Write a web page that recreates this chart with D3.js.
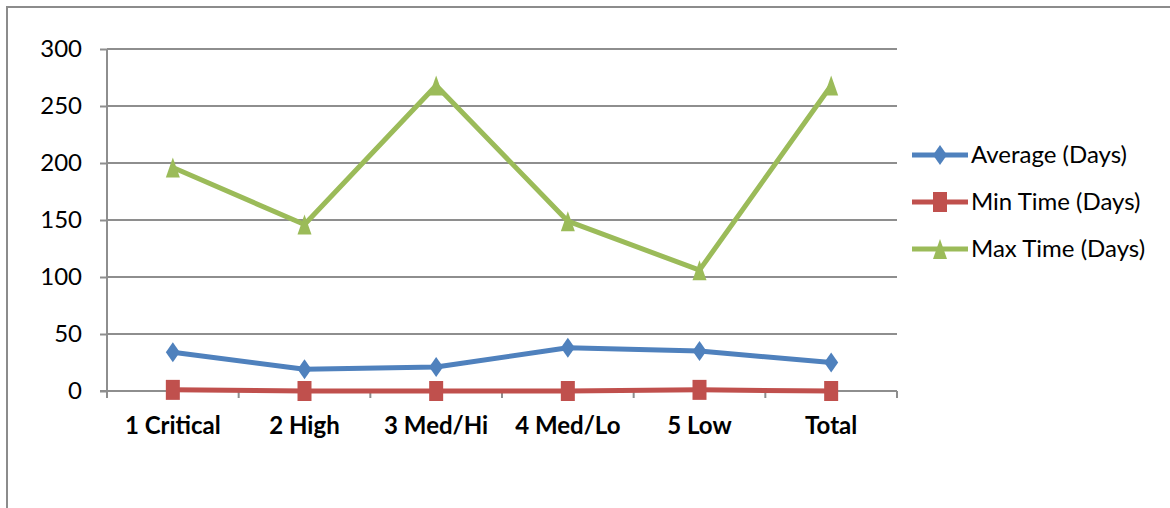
<!DOCTYPE html>
<html>
<head>
<meta charset="utf-8">
<script src="https://cdn.jsdelivr.net/npm/d3@7"></script>
<style>
  html, body { margin: 0; padding: 0; background: #fff; }
  svg { display: block; }
  text { font-family: "Lato", "Open Sans", sans-serif; fill: #000; }
</style>
</head>
<body>
<svg id="chart" width="1170" height="508"></svg>
<script>
// Resolution time per priority level
const categories = ["1 Critical", "2 High", "3 Med/Hi", "4 Med/Lo", "5 Low", "Total"];
const averageDays = [34, 19, 21, 38, 35, 25];
const minDays = [1, 0, 0, 0, 1, 0];
const maxDays = [196, 146, 268, 149, 106, 268];
const yTicks = [0, 50, 100, 150, 200, 250, 300];
const seriesNames = ["Average (Days)", "Min Time (Days)", "Max Time (Days)"];

const series = [
  { name: seriesNames[0], values: averageDays, color: "#4F81BD", marker: "diamond" },
  { name: seriesNames[1], values: minDays, color: "#C0504D", marker: "square" },
  { name: seriesNames[2], values: maxDays, color: "#9BBB59", marker: "triangle" }
];

const svg = d3.select("#chart");
const plot = { left: 107, right: 897, top: 49, bottom: 391 };

// outer chart frame
svg.append("rect")
  .attr("x", 7).attr("y", 7)
  .attr("width", 1200).attr("height", 600)
  .attr("fill", "none").attr("stroke", "#8c8c8c").attr("stroke-width", 2);

const x = d3.scaleBand().domain(categories).range([plot.left, plot.right]).padding(0);
const y = d3.scaleLinear().domain([0, 300]).range([plot.bottom, plot.top]);

// horizontal gridlines
svg.append("g").selectAll("line").data(yTicks.filter(d => d > 0)).join("line")
  .attr("x1", plot.left).attr("x2", plot.right)
  .attr("y1", d => y(d)).attr("y2", d => y(d))
  .attr("stroke", "#8e8e8e").attr("stroke-width", 2);

// y axis
const yAxis = svg.append("g")
  .attr("transform", `translate(${plot.left},0)`)
  .call(d3.axisLeft(y).tickValues(yTicks).tickSize(7).tickPadding(18));
yAxis.select(".domain").attr("stroke", "#8e8e8e").attr("stroke-width", 2)
  .attr("d", `M0,${plot.top}V${plot.bottom}`);
yAxis.selectAll(".tick line").attr("stroke", "#8e8e8e").attr("stroke-width", 2);
yAxis.selectAll(".tick text").attr("font-size", 24).attr("fill", "#000")
  .attr("font-family", "Lato, sans-serif");

// x axis with ticks at category boundaries
const xAxisG = svg.append("g").attr("transform", `translate(0,${plot.bottom})`);
xAxisG.append("line")
  .attr("x1", plot.left - 7).attr("x2", plot.right)
  .attr("stroke", "#8e8e8e").attr("stroke-width", 2);
const boundaries = categories.map(c => x(c)).concat([plot.right]);
xAxisG.selectAll("line.tk").data(boundaries).join("line").attr("class", "tk")
  .attr("x1", d => d).attr("x2", d => d).attr("y1", 0).attr("y2", 7)
  .attr("stroke", "#8e8e8e").attr("stroke-width", 2);
xAxisG.selectAll("text").data(categories).join("text")
  .attr("x", d => x(d) + x.bandwidth() / 2)
  .attr("y", 43)
  .attr("text-anchor", "middle")
  .attr("font-size", 24).attr("font-weight", "bold")
  .text(d => d);

const cx = d => x(d) + x.bandwidth() / 2;

function markerPath(type) {
  const w = 7, h = 10;
  if (type === "diamond") return `M0,${-h}L${w},0L0,${h}L${-w},0Z`;
  if (type === "square") return `M${-w},${-h}H${w}V${h}H${-w}Z`;
  return `M0,${-h}L${w},${h}H${-w}Z`;
}

const line = d3.line().x((d, i) => cx(categories[i])).y(d => y(d));

// draw series in order: max, min, average on top
[series[2], series[1], series[0]].forEach(s => {
  const g = svg.append("g");
  g.append("path").datum(s.values)
    .attr("d", line)
    .attr("fill", "none").attr("stroke", s.color)
    .attr("stroke-width", 5).attr("stroke-linejoin", "round");
  g.selectAll("path.m").data(s.values).join("path").attr("class", "m")
    .attr("transform", (d, i) => `translate(${cx(categories[i])},${y(d)})`)
    .attr("d", markerPath(s.marker))
    .attr("fill", s.color);
});

// legend
const legend = svg.append("g");
const legendRows = [155, 202, 249];
series.forEach((s, i) => {
  const g = legend.append("g").attr("transform", `translate(0,${legendRows[i]})`);
  g.append("line").attr("x1", 912).attr("x2", 968).attr("y1", 0).attr("y2", 0)
    .attr("stroke", s.color).attr("stroke-width", 5);
  g.append("path").attr("transform", "translate(940,0)")
    .attr("d", markerPath(s.marker)).attr("fill", s.color);
  g.append("text").attr("x", 971).attr("y", 0).attr("dy", "0.35em")
    .attr("font-size", 24).text(s.name);
});
</script>
</body>
</html>
